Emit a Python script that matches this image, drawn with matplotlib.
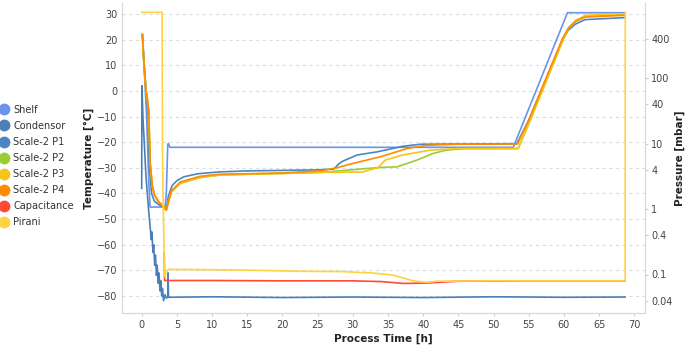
import matplotlib
matplotlib.use("Agg")
import matplotlib.pyplot as plt
from matplotlib.lines import Line2D

# ---- data ----
# temperatures [°C] vs process time [h]
shelf_t = [0.1, 0.3, 0.7, 1.0, 1.2, 3.0, 3.3, 3.5, 3.7, 3.8, 4.0, 52.8, 60.5, 68.7]
shelf_T = [22.0, 12.0, -10.0, -35.0, -45.3, -45.3, -46.0, -40.0, -21.0, -20.5, -22.0, -22.0, 30.5, 30.5]

cond_t = [0.0, 0.03, 0.2, 0.4, 0.6, 0.8, 1.0, 1.2, 1.35, 1.45, 1.6, 1.7, 1.85, 1.95, 2.1, 2.2,
          2.35, 2.45, 2.6, 2.7, 2.85, 2.95, 3.1, 3.3, 3.5, 3.7, 3.75, 3.8, 10, 20, 30, 40, 50, 60, 68.7]
cond_T = [-38, 2, -12, -22, -33, -40, -47, -53, -58, -55, -63, -60, -68, -64, -72, -68,
          -75, -71, -78, -74, -80, -77, -81.8, -79.5, -80.8, -80.5, -71, -80.5,
          -80.3, -80.6, -80.4, -80.6, -80.3, -80.5, -80.4]

p1_t = [0.1, 0.4, 0.7, 0.9, 1.1, 1.4, 1.8, 2.5, 3.2, 3.5, 3.8, 4.3, 5.0, 6.0, 8.0, 11, 15, 20, 25,
        27.3, 28.0, 28.5, 30.6, 33.4, 37.1, 39.6, 53.3, 55.0, 59.8, 60.6, 61.6, 63.0, 68.7]
p1_T = [22, 8, -2, -8, -30, -40, -43, -44.5, -45.5, -45.8, -41, -37, -35, -33.5, -32.3, -31.6, -31.2,
        -31.0, -30.8, -30.5, -28.5, -27.5, -25.0, -23.8, -21.6, -20.8, -20.6, -11.4, 20.0, 23.6,
        26.0, 27.8, 28.6]

p2_t = [0.1, 0.3, 0.6, 0.8, 1.0, 1.2, 1.5, 1.8, 2.4, 3.1, 3.5, 3.8, 4.2, 5.5, 8.3, 11.1, 15, 20, 25.4,
        33.6, 36.3, 39.1, 41.4, 43.3, 46, 53.5, 55.2, 59.9, 60.7, 61.7, 63.1, 68.7]
p2_T = [21, 11, 0, -3, -8, -28, -37, -40.5, -43.3, -45, -46.5, -43.5, -39.5, -36, -33.8, -32.8, -32.5,
        -32.2, -31.8, -29.9, -29.6, -27.0, -24.4, -23.1, -22.5, -22.5, -11.5, 20.0, 24.5, 27.3,
        29.2, 29.8]

p3_t = [0.1, 0.3, 0.6, 0.8, 1.0, 1.2, 1.5, 1.8, 2.4, 3.1, 3.5, 3.8, 4.2, 5.5, 8.3, 11.1, 15, 20, 25.4,
        31.4, 33.6, 34.6, 37.1, 41.0, 45, 53.5, 55.2, 59.9, 60.7, 61.7, 63.1, 68.7]
p3_T = [21, 11, 0, -3, -8, -28, -37, -40.5, -43.3, -45, -46.5, -43.5, -39.5, -36, -33.8, -32.8, -32.5,
        -32.2, -31.8, -31.6, -29.9, -27.0, -25.0, -23.1, -22.5, -22.5, -11.5, 20.3, 24.8, 27.6,
        29.5, 30.0]

p4_t = [0.1, 0.3, 0.6, 0.8, 1.0, 1.2, 1.5, 1.8, 2.4, 3.1, 3.5, 3.8, 4.2, 5.5, 8.3, 11.1, 15, 20, 25.4,
        27.7, 30.0, 33.9, 37.7, 40.5, 45, 53.4, 55.0, 59.8, 60.6, 61.6, 63.0, 68.7]
p4_T = [22, 12, 0, -3, -8, -28, -37, -40.5, -43.3, -45, -46.5, -43, -39, -35.5, -33.3, -32.5, -32.3,
        -32.0, -31.2, -30.0, -28.3, -25.7, -22.5, -21.2, -20.8, -20.7, -11.4, 20.5, 24.4, 27.0,
        28.8, 29.5]

# pressures [mbar] vs process time [h]
cap_t = [3.15, 3.2, 3.25, 10, 20, 30, 34, 37.2, 40.5, 45, 55, 68.7]
cap_P = [0.21, 0.20, 0.081, 0.081, 0.080, 0.080, 0.078, 0.073, 0.074, 0.079, 0.080, 0.080]

pir_t = [0.0, 2.9, 2.95, 3.05, 3.25, 3.5, 3.8, 14, 22.5, 28, 32.5, 35.7, 38.6, 40.5, 42, 50, 60,
         68.7, 68.72]
pir_P = [1007, 1007, 8, 1.2, 0.093, 0.11, 0.12, 0.117, 0.112, 0.111, 0.106, 0.098, 0.080, 0.076,
         0.079, 0.080, 0.080, 0.080, 1000]

names = ["Shelf", "Condensor", "Scale-2 P1", "Scale-2 P2", "Scale-2 P3", "Scale-2 P4",
         "Capacitance", "Pirani"]
colors = ["#6a94ee", "#4a80b8", "#4a86c4", "#9acd32", "#f5c518", "#ff8c00", "#ff4a36", "#ffd23f"]

p_ticks = [0.04, 0.1, 0.4, 1, 4, 10, 40, 100, 400]

# ---- figure ----
W, H = 685, 348
fig = plt.figure(figsize=(W / 100, H / 100), dpi=100)
ax = fig.add_axes([122 / W, 1 - 313 / H, (645 - 122) / W, (313 - 3) / H])
ax2 = ax.twinx()

temps = [(shelf_t, shelf_T), (cond_t, cond_T), (p1_t, p1_T), (p2_t, p2_T), (p3_t, p3_T), (p4_t, p4_T)]
for (t, v), c in zip(temps, colors[:6]):
    ax.plot(t, v, color=c, lw=1.2, solid_joinstyle="round")
ax2.plot(cap_t, cap_P, color=colors[6], lw=1.2)
ax2.plot(pir_t, pir_P, color=colors[7], lw=1.2)

ax.set_xlim(-2.80, 71.52)
ax.set_ylim(-86.63, 34.29)
ax2.set_yscale("log")
ax2.set_ylim(10 ** ((209 - 313) / 65.5), 10 ** ((209 - 3) / 65.5))

ax.set_xticks(range(0, 71, 5))
ax.set_yticks(range(-80, 31, 10))
ax2.set_yticks(p_ticks)
ax2.set_yticklabels([f"{v:g}" for v in p_ticks])
ax2.yaxis.set_minor_locator(matplotlib.ticker.NullLocator())

ax.grid(axis="y", color="#dddddd", ls=(0, (3, 3)), lw=0.8)
ax.set_axisbelow(True)

for a in (ax, ax2):
    for s in a.spines.values():
        s.set_color("#d9d9d9")
        s.set_linewidth(0.8)
    a.spines["top"].set_visible(False)

ax.tick_params(axis="y", length=0, pad=3.5, labelsize=7, labelcolor="#444444")
ax.tick_params(axis="x", length=2.5, pad=2.5, labelsize=7, labelcolor="#444444", color="#cccccc")
ax2.tick_params(axis="y", length=2.5, pad=2, labelsize=7, labelcolor="#444444", color="#cccccc")

ax.set_xlabel("Process Time [h]", fontsize=7.5, fontweight="bold", color="#222222")
ax.xaxis.set_label_coords(0.5, -0.068)
ax.set_ylabel("Temperature [°C]", fontsize=7.5, fontweight="bold", color="#222222")
ax.yaxis.set_label_coords(-0.054, 0.5)
ax2.set_ylabel("Pressure [mbar]", fontsize=7.5, fontweight="bold", color="#222222")
ax2.yaxis.set_label_coords(1.057, 0.5)

handles = [Line2D([], [], ls="none", marker="o", markersize=7.5, markerfacecolor=c,
                  markeredgecolor=c) for c in colors]
fig.legend(handles, names, loc="upper left", bbox_to_anchor=(-0.007, 1 - 100 / H), frameon=False,
           fontsize=7, labelspacing=0.62, handlelength=0.9, handletextpad=0.45, borderpad=0,
           labelcolor="#333333")

fig.savefig("out.png", dpi=100)
